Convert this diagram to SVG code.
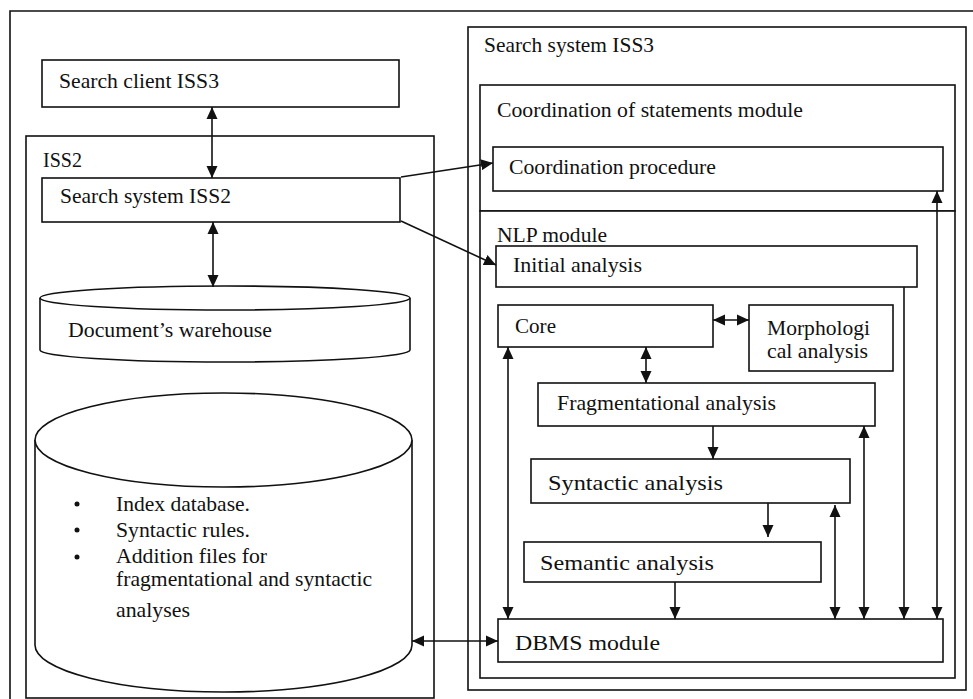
<svg xmlns="http://www.w3.org/2000/svg" width="973" height="699" viewBox="0 0 973 699">
<style>
.b{fill:#fff;stroke:#111;stroke-width:1.6}
.c{fill:none;stroke:#111;stroke-width:1.6}
.t{font-family:"Liberation Serif","Times New Roman",serif;font-size:21px;fill:#111}
.l{fill:none;stroke:#111;stroke-width:1.6}
</style>
<defs>
<marker id="ah" markerUnits="userSpaceOnUse" markerWidth="12" markerHeight="12" refX="12" refY="6" orient="auto-start-reverse"><path d="M0,0.5 L12,6 L0,11.5 z" fill="#111"/></marker>
</defs>
<rect width="973" height="699" fill="#fff"/>
<path class="c" d="M10,699 L10,11 L973,11"/>
<g id="search-client"><rect class="b" x="42" y="60" width="357" height="47"/><text class="t" x="59" y="88" textLength="160" lengthAdjust="spacingAndGlyphs">Search client ISS3</text></g>
<g id="iss2"><rect class="b" x="26" y="136" width="408" height="562"/><text class="t" x="43" y="167" textLength="39" lengthAdjust="spacingAndGlyphs">ISS2</text></g>
<g id="search-system-iss2"><rect class="b" x="42" y="178" width="358" height="44"/><text class="t" x="60" y="203" textLength="171" lengthAdjust="spacingAndGlyphs">Search system ISS2</text></g>
<g id="documents-warehouse"><path class="b" d="M40,298 L40,350 A185,12 0 0,0 410,350 L410,298"/><ellipse class="b" cx="225" cy="298" rx="185" ry="12"/><text class="t" x="68" y="337" textLength="204" lengthAdjust="spacingAndGlyphs">Document’s warehouse</text></g>
<g id="index-database"><path class="b" d="M35,440 L35,645 A188.5,47 0 0,0 412,645 L412,440"/><ellipse class="b" cx="223.5" cy="440" rx="188.5" ry="47"/>
<circle cx="77" cy="504" r="2.5" fill="#111"/><circle cx="77" cy="530" r="2.5" fill="#111"/><circle cx="77" cy="557" r="2.5" fill="#111"/>
<text class="t" x="116" y="511" textLength="134" lengthAdjust="spacingAndGlyphs">Index database.</text>
<text class="t" x="116" y="537" textLength="134" lengthAdjust="spacingAndGlyphs">Syntactic rules.</text>
<text class="t" x="116" y="563" textLength="151" lengthAdjust="spacingAndGlyphs">Addition files for</text>
<text class="t" x="116" y="586" textLength="256" lengthAdjust="spacingAndGlyphs">fragmentational and syntactic</text>
<text class="t" x="116" y="617" textLength="74" lengthAdjust="spacingAndGlyphs">analyses</text></g>
<g id="search-system-iss3"><rect class="b" x="468" y="27" width="498" height="663"/><text class="t" x="484" y="52" textLength="170" lengthAdjust="spacingAndGlyphs">Search system ISS3</text></g>
<g id="coordination-module"><rect class="b" x="480" y="85" width="475" height="126"/><text class="t" x="497" y="117" textLength="306" lengthAdjust="spacingAndGlyphs">Coordination of statements module</text></g>
<g id="coordination-procedure"><rect class="b" x="493" y="147" width="450" height="44"/><text class="t" x="509" y="174" textLength="207" lengthAdjust="spacingAndGlyphs">Coordination procedure</text></g>
<g id="nlp-module"><rect class="b" x="480" y="211" width="475" height="467"/><text class="t" x="497" y="242" textLength="110" lengthAdjust="spacingAndGlyphs">NLP module</text></g>
<g id="initial-analysis"><rect class="b" x="496" y="246" width="421" height="41"/><text class="t" x="513" y="272" textLength="129" lengthAdjust="spacingAndGlyphs">Initial analysis</text></g>
<g id="core"><rect class="b" x="498" y="305" width="215" height="42"/><text class="t" x="515" y="333" textLength="41" lengthAdjust="spacingAndGlyphs">Core</text></g>
<g id="morphological-analysis"><rect class="b" x="749" y="305" width="144" height="66"/><text class="t" x="767" y="335" textLength="103" lengthAdjust="spacingAndGlyphs">Morphologi</text><text class="t" x="767" y="358" textLength="101" lengthAdjust="spacingAndGlyphs">cal analysis</text></g>
<g id="fragmentational-analysis"><rect class="b" x="538" y="383" width="337" height="43"/><text class="t" x="557" y="410" textLength="219" lengthAdjust="spacingAndGlyphs">Fragmentational analysis</text></g>
<g id="syntactic-analysis"><rect class="b" x="531" y="459" width="319" height="44"/><text class="t" x="548" y="490" textLength="175" lengthAdjust="spacingAndGlyphs">Syntactic analysis</text></g>
<g id="semantic-analysis"><rect class="b" x="524" y="542" width="297" height="40"/><text class="t" x="540" y="570" textLength="174" lengthAdjust="spacingAndGlyphs">Semantic analysis</text></g>
<g id="dbms-module"><rect class="b" x="498" y="619" width="445" height="43"/><text class="t" x="515" y="650" textLength="145" lengthAdjust="spacingAndGlyphs">DBMS module</text></g>
<g id="connectors">
<path class="l" d="M212,107 L212,178" marker-start="url(#ah)" marker-end="url(#ah)"/>
<path class="l" d="M213,222 L213,287" marker-start="url(#ah)" marker-end="url(#ah)"/>
<path class="l" d="M401,177 L493,163" marker-end="url(#ah)"/>
<path class="l" d="M401,221 L496,265" marker-end="url(#ah)"/>
<path class="l" d="M713,320 L749,320" marker-start="url(#ah)" marker-end="url(#ah)"/>
<path class="l" d="M646,347 L646,383" marker-start="url(#ah)" marker-end="url(#ah)"/>
<path class="l" d="M713,426 L713,459" marker-end="url(#ah)"/>
<path class="l" d="M768,503 L768,537" marker-end="url(#ah)"/>
<path class="l" d="M675,582 L675,619" marker-end="url(#ah)"/>
<path class="l" d="M508,347 L508,619" marker-start="url(#ah)" marker-end="url(#ah)"/>
<path class="l" d="M835,505 L835,619" marker-start="url(#ah)" marker-end="url(#ah)"/>
<path class="l" d="M864,426 L864,619" marker-start="url(#ah)" marker-end="url(#ah)"/>
<path class="l" d="M904,287 L904,619" marker-end="url(#ah)"/>
<path class="l" d="M937,191 L937,619" marker-start="url(#ah)" marker-end="url(#ah)"/>
<path class="l" d="M412,641 L498,641" marker-start="url(#ah)" marker-end="url(#ah)"/>
</g>
</svg>
